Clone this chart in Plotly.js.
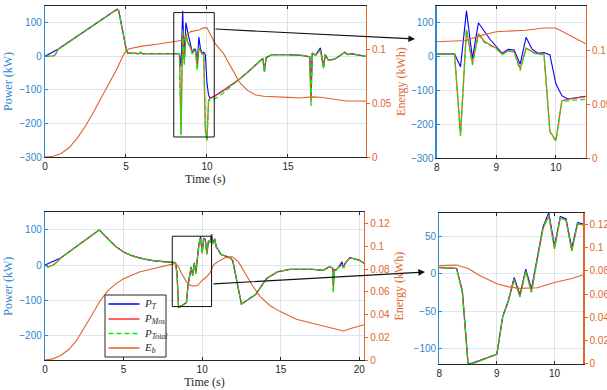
<!DOCTYPE html>
<html>
<head>
<meta charset="utf-8">
<script src="https://cdn.plot.ly/plotly-3.0.1.min.js"></script>
<style>html,body{margin:0;padding:0;background:#fff}#plot{width:607px;height:390px}</style>
</head>
<body>
<div id="plot"></div>
<script>
// ---------- Top case: power (kW) ----------
const tTopP = [0,0.5,0.65,0.8,4.45,4.55,5.0,5.1,5.8,5.9,6.0,8.0,8.1,8.2,8.3,8.4,8.5,8.6,8.7,8.8,8.9,9.0,9.1,9.2,9.3,9.4,9.5,9.6,9.7,9.8,9.9,10.0,10.1,10.2,10.3,10.4,10.5,11.0,11.5,12.0,12.5,13.0,13.45,13.55,13.65,14.0,14.5,15.0,16.0,16.35,16.42,16.5,16.7,17.0,17.2,17.3,17.5,17.9,18.3,18.5,18.7,18.9,19.2,19.8];
const topPT    = [0,13,17,21,140,136,25,10,8,12,8,8,8,8,8,-30,135,-5,100,75,50,30,10,22,20,-22,57,22,10,12,5,-80,-115,-125,-123,-120,-117,-102,-86,-68,-48,-26,-6,-45,-4,5,6,5,2,-2,-120,10,3,25,-30,5,-12,-8,5,12,5,8,5,0];
const topPMos  = [0,1,6,20,140,136,25,10,8,12,8,8,8,8,8,-230,80,-20,68,45,35,25,8,18,15,-35,25,15,8,8,-220,-248,-130,-125,-123,-121,-118,-102,-86,-68,-48,-26,-6,-45,-4,5,6,5,2,-2,-140,10,3,20,-35,5,-12,-8,5,12,5,8,5,0];
const topPTot  = [0,0,5,20,140,136,25,10,8,12,8,8,8,8,8,-235,80,-25,65,42,33,23,6,17,13,-42,25,13,6,7,-222,-250,-133,-130,-128,-127,-126,-110,-88,-68,-48,-26,-6,-47,-4,5,6,5,2,-2,-148,10,3,18,-38,5,-12,-8,5,12,5,8,5,0];
// ---------- Top case: energy (kWh) ----------
const tTopE = [0,0.5,1,1.5,2,2.5,3,3.5,4,4.5,4.8,5.0,5.2,6,7,8,8.3,8.5,8.7,9.0,9.5,9.8,10.0,10.25,10.5,11,11.5,12,12.5,13,13.5,14,14.5,15,15.7,16.5,17,17.6,18.6,19.4,19.8];
const topEb = [0,0.0008,0.0035,0.009,0.018,0.029,0.042,0.056,0.0695,0.084,0.094,0.099,0.101,0.1035,0.1055,0.1075,0.108,0.109,0.113,0.117,0.1185,0.1205,0.1205,0.113,0.106,0.097,0.083,0.070,0.0622,0.058,0.0567,0.0565,0.0565,0.0557,0.0552,0.0562,0.0558,0.0547,0.0524,0.0524,0.0522];

// ---------- Bottom case: power (kW) ----------
const tBotP = [0,0.2,0.5,0.8,1.0,3.45,3.7,4.0,4.5,5.0,5.5,6.0,6.5,7.0,7.5,8.0,8.1,8.2,8.3,8.4,8.5,8.6,8.7,8.8,8.9,9.0,9.1,9.2,9.3,9.4,9.5,9.6,9.7,9.8,9.9,10.0,10.1,10.2,10.3,10.4,10.5,10.6,10.7,10.8,10.9,11.0,11.2,11.5,11.8,11.95,12.5,13.0,13.4,14.1,14.8,15.6,16.3,17.0,17.7,18.1,18.3,18.35,18.4,18.5,18.7,18.9,19.0,19.1,19.4,19.5,20.0,20.3];
const botPT   = [0,4,10,16,20,100,88,75,53,37,27,20,15,12,10,8,7.5,7,7,-22,-120,-118,-115,-112,-110,-107,-57,-35,-5,-28,6,-20,21,62,81,37,76,73,34,68,66,88,62,75,52,45,30,26,20,12,-111,-96,-84,-38,-19,-12,-11,-12,-15,-5,-8,-60,-12,-15,-5,9,-8,5,21,20,14,5];
const botPMos = [0,-5,0,10,20,100,88,75,53,37,27,20,15,12,10,8,7.5,7,7,-24,-121,-119,-116,-113,-110,-107,-58,-36,-7,-30,4,-24,19,60,77,33,74,71,30,66,65,86,60,73,50,45,30,26,20,12,-111,-96,-84,-38,-19,-12,-11,-12,-15,-5,-8,-71,-12,-15,-5,0,-8,5,21,20,14,5];
const botPTot = [0,-6,-1,9,20,100,88,75,53,37,27,20,15,12,10,8,7.5,7,7,-25,-121,-119,-116,-113,-110,-107,-58,-36,-8,-31,3,-25,18,60,78,34,74,71,31,67,65,86,60,73,50,45,30,26,20,12,-111,-96,-84,-38,-19,-12,-11,-12,-15,-5,-8,-80,-12,-15,-5,-2,-8,5,21,20,14,5];
// ---------- Bottom case: energy (kWh) ----------
const tBotE = [0,0.5,1,1.5,2,2.5,3,3.5,4,4.5,5,6,7,8,8.3,8.5,8.7,9.0,9.2,9.4,9.6,9.7,10.0,10.3,10.5,10.72,11.0,11.46,11.9,12.3,12.74,13.18,13.69,14.33,14.97,16,17,18,19,19.5,20,20.3];
const botEb = [0,0.001,0.004,0.009,0.017,0.028,0.040,0.052,0.061,0.067,0.0715,0.0775,0.081,0.0845,0.085,0.082,0.076,0.069,0.0663,0.065,0.065,0.0655,0.070,0.0735,0.0767,0.0837,0.0865,0.090,0.091,0.0866,0.0764,0.066,0.0558,0.0478,0.0426,0.0358,0.0323,0.0287,0.0255,0.0279,0.0299,0.031];

// ---------- labels / axis settings ----------
const seriesNames = ['<i>P</i><sub><i>T</i></sub>','<i>P</i><sub><i>Mos</i></sub>','<i>P</i><sub><i>Total</i></sub>','<i>E</i><sub><i>b</i></sub>'];
const zoomRange = [8, 10.5];
const topRectX = [7.95, 10.45], topRectY = [-240, 130];
const botRectX = [8.1, 10.6], botRectY = [-118, 82];

const BLUE='#0000ff', RED='#ff2a2a', GREEN='#00ee00', ORANGE='#e0622a';
const AXB='#2f86cc', AXO='#e0662c', DARK='#262626';
const SERIF = "'Liberation Serif', 'DejaVu Serif', serif";
const SANS = "'Liberation Sans', Arial, sans-serif";
const seriesStyle = [
  {color:BLUE,width:1.1},
  {color:RED,width:1.3},
  {color:GREEN,width:1.3,dash:'5px,3px'},
  {color:ORANGE,width:1.1}
];

function addSet(traces, t, pt, pm, ptot, te, eb, xa, ya, ya2){
  const ys=[pt,pm,ptot];
  ys.forEach((y,i)=>traces.push({x:t,y:y,xaxis:xa,yaxis:ya,type:'scatter',mode:'lines',name:seriesNames[i],line:seriesStyle[i],opacity:i===1?0.85:1,showlegend:false}));
  traces.push({x:te,y:eb,xaxis:xa,yaxis:ya2,type:'scatter',mode:'lines',name:seriesNames[3],line:seriesStyle[3],showlegend:false});
}
const traces=[];
addSet(traces,tTopP,topPT,topPMos,topPTot,tTopE,topEb,'x','y','y2');
addSet(traces,tTopP,topPT,topPMos,topPTot,tTopE,topEb,'x2','y3','y4');
addSet(traces,tBotP,botPT,botPMos,botPTot,tBotE,botEb,'x3','y5','y6');
addSet(traces,tBotP,botPT,botPMos,botPTot,tBotE,botEb,'x4','y7','y8');

const tickF = {family:SANS, size:10};
const titleF = (c)=>({family:SERIF, size:12, color:c});
function xax(dom, anchor, range, dtick, title){
  return {domain:dom, anchor:anchor, range:range, dtick:dtick, tick0:0, showgrid:true, gridcolor:'#e2e2e2', gridwidth:1,
    zeroline:false, showline:true, linecolor:DARK, linewidth:1, mirror:'ticks', ticks:'inside', ticklen:3, tickcolor:DARK,
    tickfont:Object.assign({color:DARK},tickF), title: title?{text:title, font:titleF(DARK), standoff:1}:undefined};
}
function yl(dom, anchor, range, tickvals, title){
  return {domain:dom, anchor:anchor, range:range, tickvals:tickvals, showgrid:true, gridcolor:'#dae8f4', gridwidth:1,
    zeroline:false, showline:true, linecolor:AXB, linewidth:1.2, ticks:'inside', ticklen:3, tickcolor:AXB,
    tickfont:Object.assign({color:AXB},tickF), title: title?{text:title, font:titleF(AXB), standoff:4}:undefined};
}
function yr(over, anchor, range, tickvals, title){
  return {overlaying:over, anchor:anchor, side:'right', range:range, tickvals:tickvals, showgrid:false,
    zeroline:false, showline:true, linecolor:AXO, linewidth:1.2, ticks:'outside', ticklen:3, tickcolor:AXO,
    tickfont:Object.assign({color:AXO},tickF), title: title?{text:title, font:titleF(AXO), standoff:5}:undefined};
}

// legend box (drawn as a compact MATLAB-style legend in the bottom-left panel)
const W=607, H=390;
const legBox = {x0:105, x1:166, y0:295, y1:357};
const legRows = [304, 319, 333.5, 348];
const legShapes = [{type:'rect', xref:'paper', yref:'paper', x0:legBox.x0/W, x1:legBox.x1/W, y0:1-legBox.y1/H, y1:1-legBox.y0/H,
  fillcolor:'#ffffff', line:{color:DARK,width:1}}];
const legLine = [
  {color:BLUE,width:1.5},
  {color:'#ff5a5a',width:1.9},
  {color:GREEN,width:1.5,dash:'5px,3px'},
  {color:'#e8824c',width:1.9}
];
const legAnn = [];
legRows.forEach((yy,i)=>{
  legShapes.push({type:'line', xref:'paper', yref:'paper', x0:108.5/W, x1:139.5/W, y0:1-yy/H, y1:1-yy/H, line:legLine[i]});
  legAnn.push({xref:'paper', yref:'paper', x:142/W, y:1-yy/H, xanchor:'left', yanchor:'middle', text:seriesNames[i], showarrow:false,
    font:{family:SERIF, size:11, color:DARK}});
});

const layout = {
  width:W, height:H, margin:{l:0,r:0,t:0,b:0}, paper_bgcolor:'#fff', plot_bgcolor:'#fff', showlegend:false,
  xaxis: xax([0.0741,0.6025],'y',[0,19.8],5,'Time (s)'),
  yaxis: yl([0.597,0.985],'x',[-300,150],[-300,-200,-100,0,100],'Power (kW)'),
  yaxis2: yr('y','x',[0,0.141],[0,0.05,0.1],'Energy (kWh)'),
  xaxis2: xax([0.7194,0.9649],'y3',zoomRange,1,null),
  yaxis3: yl([0.594,0.985],'x2',[-300,150],[-300,-200,-100,0,100],null),
  yaxis4: yr('y3','x2',[0,0.141],[0,0.05,0.1],null),
  xaxis3: xax([0.0741,0.5997],'y5',[0,20.3],5,'Time (s)'),
  yaxis5: yl([0.0769,0.4556],'x3',[-270,150],[-200,-100,0,100],'Power (kW)'),
  yaxis6: yr('y5','x3',[0,0.13],[0,0.02,0.04,0.06,0.08,0.1,0.12],'Energy (kWh)'),
  xaxis4: xax([0.7237,0.961],'y7',zoomRange,1,null),
  yaxis7: yl([0.0667,0.4546],'x4',[-120,81],[-100,-50,0,50],null),
  yaxis8: yr('y7','x4',[0,0.13],[0,0.02,0.04,0.06,0.08,0.1,0.12],null),
  shapes:[
    {type:'rect', xref:'x', yref:'y', x0:topRectX[0], x1:topRectX[1], y0:topRectY[0], y1:topRectY[1], line:{color:'#111',width:1}},
    {type:'rect', xref:'x3', yref:'y5', x0:botRectX[0], x1:botRectX[1], y0:botRectY[0], y1:botRectY[1], line:{color:'#111',width:1}}
  ].concat(legShapes),
  annotations:[
    {xref:'paper', yref:'paper', x:415/W, y:1-39/H, ax:-201, ay:-10, text:'', showarrow:true, arrowhead:2, arrowsize:1.2, arrowwidth:1.1, arrowcolor:'#111'},
    {xref:'paper', yref:'paper', x:425/W, y:1-272/H, ax:-213, ay:12, text:'', showarrow:true, arrowhead:2, arrowsize:1.2, arrowwidth:1.1, arrowcolor:'#111'}
  ].concat(legAnn)
};
Plotly.newPlot('plot', traces, layout, {displayModeBar:false, staticPlot:true});
</script>
</body>
</html>
